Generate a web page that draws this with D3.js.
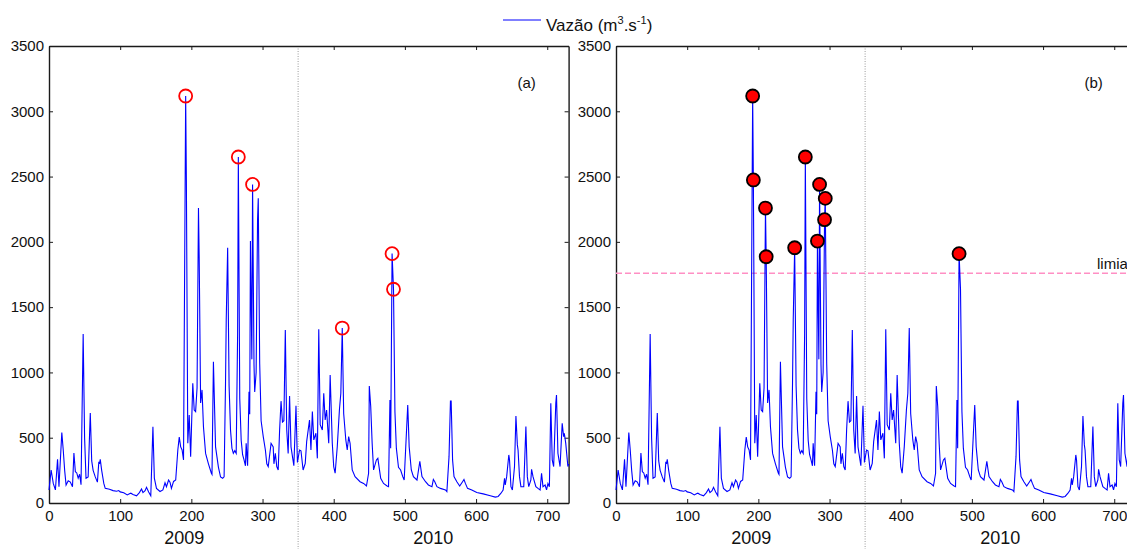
<!DOCTYPE html>
<html>
<head>
<meta charset="utf-8">
<script src="https://cdn.jsdelivr.net/npm/d3@7"></script>
<style>
  body { margin: 0; background: #fff; }
  text { font-family: "Liberation Sans", Arial, sans-serif; }
</style>
</head>
<body>
<div id="chart"></div>
<script>
// daily flow series (key points)
var days = [0, 3, 6, 9, 12, 14, 18, 20, 22, 24, 27, 30, 33, 35, 37, 39, 41, 43, 45, 48,
  50, 52, 55, 58, 60, 62, 65, 68, 70, 71, 72, 74, 77, 79, 85, 90, 95, 98, 100, 105,
  110, 113, 115, 118, 123, 127, 130, 132, 135, 137, 140, 143, 146, 148, 151, 156, 160, 163, 165, 168,
  170, 172, 175, 178, 181, 183, 185, 187, 189, 192, 193, 195, 197, 199, 202, 204, 206, 208, 210, 211,
  213, 215, 217, 220, 224, 228, 229, 231, 234, 238, 241, 244, 246, 248, 249, 251, 253, 255, 257, 259,
  261, 263, 265, 266, 268, 270, 272, 274, 276, 277, 279, 281, 282, 283, 285, 286, 288, 289, 291, 293,
  294, 296, 298, 301, 304, 306, 308, 312, 315, 316, 318, 320, 322, 324, 326, 328, 330, 332, 334, 336,
  338, 340, 344, 347, 349, 352, 354, 357, 360, 362, 366, 368, 370, 372, 375, 377, 379, 381, 384, 386,
  388, 390, 393, 395, 398, 400, 402, 405, 408, 410, 412, 414, 417, 419, 421, 423, 426, 430, 437, 442,
  446, 449, 450, 452, 454, 456, 460, 462, 466, 470, 475, 477, 479, 480, 482, 484, 486, 488, 491, 494,
  497, 499, 504, 506, 509, 512, 517, 521, 524, 529, 533, 538, 540, 542, 545, 550, 557, 559, 562, 564,
  565, 567, 569, 573, 577, 581, 583, 585, 588, 594, 601, 610, 620, 627, 631, 635, 638, 640, 641, 643,
  646, 647, 649, 651, 654, 656, 658, 659, 661, 663, 667, 670, 672, 674, 677, 678, 680, 684, 687, 690,
  692, 694, 697, 699, 701, 703, 705, 707, 709, 712, 713, 715, 718, 721, 723, 724, 726, 729, 730];

var flows = [100, 253, 150, 100, 335, 125, 539, 406, 250, 138, 170, 160, 125, 383, 240, 230, 190, 220, 140, 1294,
  500, 189, 200, 689, 322, 250, 200, 160, 315, 300, 335, 250, 150, 112, 105, 95, 90, 95, 85, 78,
  62, 70, 75, 65, 55, 80, 107, 80, 95, 120, 85, 55, 584, 190, 112, 88, 100, 155, 125, 176,
  160, 112, 165, 176, 406, 505, 430, 406, 330, 3117, 2474, 457, 674, 355, 917, 712, 700, 880, 2259, 1886,
  766, 866, 584, 380, 300, 230, 220, 1082, 430, 275, 200, 189, 200, 917, 1401, 1955, 900, 560, 420, 380,
  400, 380, 1300, 2650, 800, 480, 370, 330, 285, 457, 285, 852, 680, 2006, 1100, 2440, 1060, 850, 1000, 2170,
  2333, 1070, 630, 508, 406, 300, 279, 457, 430, 300, 380, 279, 253, 560, 780, 620, 630, 1325, 560, 380,
  820, 430, 285, 745, 310, 406, 400, 253, 304, 470, 636, 406, 700, 483, 534, 342, 1330, 600, 559, 840,
  636, 712, 457, 980, 457, 279, 228, 432, 712, 840, 1340, 686, 483, 406, 508, 457, 253, 202, 163, 150,
  130, 228, 896, 738, 457, 253, 330, 342, 189, 150, 130, 125, 789, 420, 1910, 1637, 700, 420, 273, 253,
  202, 176, 751, 432, 253, 202, 176, 320, 202, 163, 138, 125, 180, 163, 125, 112, 100, 87, 355, 780,
  780, 330, 202, 163, 130, 163, 180, 150, 112, 100, 80, 70, 55, 45, 50, 75, 100, 189, 138, 202,
  368, 330, 125, 100, 279, 666, 445, 406, 202, 125, 125, 585, 202, 125, 176, 258, 202, 125, 112, 100,
  228, 125, 138, 100, 150, 125, 763, 330, 279, 763, 827, 381, 279, 610, 508, 534, 457, 279, 300];

var peakDaysA = [192, 266, 286, 412, 482, 484];
var threshold = 1760;
var xTicks = [0, 100, 200, 300, 400, 500, 600, 700];
var yTicks = [0, 500, 1000, 1500, 2000, 2500, 3000, 3500];
var yearLabels = ["2009", "2010"];
var yearDays = [190, 540];
var yearSplit = 350;

var series = days.map(function (d, i) { return { day: d, flow: flows[i] }; });

var svgWidth = 1127;
var svgHeight = 549;

var svg = d3.select("#chart")
  .append("svg")
  .attr("width", svgWidth)
  .attr("height", svgHeight);

var plotTop = 46, plotBottom = 503;

var yScale = d3.scaleLinear().domain([0, 3500]).range([plotBottom, plotTop]);

function drawPanel(left, tag, filled) {
  var xScale = d3.scaleLinear().domain([0, 730]).range([left, left + 519.6]);
  var right = xScale(730);
  var g = svg.append("g");

  // year divider
  g.append("line")
    .attr("x1", xScale(yearSplit)).attr("x2", xScale(yearSplit))
    .attr("y1", plotTop).attr("y2", svgHeight)
    .attr("stroke", "#9a9a9a")
    .attr("stroke-width", 1)
    .attr("stroke-dasharray", "1,1.5");

  // axes (matlab style, ticks inside)
  var bottomAxis = d3.axisBottom(xScale).tickValues(xTicks).tickSizeInner(-4).tickSizeOuter(0).tickPadding(7);
  var leftAxis = d3.axisLeft(yScale).tickValues(yTicks).tickFormat(d3.format("d"))
    .tickSizeInner(-4).tickSizeOuter(0).tickPadding(5);
  var topAxis = d3.axisTop(xScale).tickValues(xTicks).tickSizeInner(-4).tickSizeOuter(0).tickFormat("");
  var rightAxis = d3.axisRight(yScale).tickValues(yTicks).tickSizeInner(-4).tickSizeOuter(0).tickFormat("");

  var ax = [
    g.append("g").attr("transform", "translate(0," + plotBottom + ")").call(bottomAxis),
    g.append("g").attr("transform", "translate(" + left + ",0)").call(leftAxis),
    g.append("g").attr("transform", "translate(0," + plotTop + ")").call(topAxis),
    g.append("g").attr("transform", "translate(" + right + ",0)").call(rightAxis)
  ];
  ax.forEach(function (a) {
    a.attr("font-size", 15).attr("font-family", "Liberation Sans, Arial, sans-serif");
    a.selectAll("text").attr("fill", "#111");
    a.select(".domain").attr("stroke", "#1a1a1a").attr("stroke-width", 1.4);
    a.selectAll(".tick line").attr("stroke", "#1a1a1a");
  });

  // threshold
  if (filled) {
    g.append("line")
      .attr("x1", left).attr("x2", right)
      .attr("y1", yScale(threshold)).attr("y2", yScale(threshold))
      .attr("stroke", "#ff8fc4")
      .attr("stroke-width", 1.6)
      .attr("stroke-dasharray", "6,3");
    g.append("text")
      .attr("x", 1097).attr("y", yScale(threshold) - 4)
      .attr("font-size", 15)
      .attr("fill", "#111")
      .text("limiar");
  }

  // series
  var line = d3.line()
    .x(function (d) { return xScale(d.day); })
    .y(function (d) { return yScale(d.flow); });

  g.append("path")
    .datum(series)
    .attr("fill", "none")
    .attr("stroke", "#0000ff")
    .attr("stroke-width", 1.1)
    .attr("d", line);

  // markers
  var marks;
  if (filled) {
    marks = series.filter(function (d) { return d.flow > threshold; });
  } else {
    marks = series.filter(function (d) { return peakDaysA.indexOf(d.day) >= 0; });
  }
  g.selectAll("circle.mk")
    .data(marks)
    .enter()
    .append("circle")
    .attr("class", "mk")
    .attr("cx", function (d) { return xScale(d.day); })
    .attr("cy", function (d) { return yScale(d.flow); })
    .attr("r", 6.5)
    .attr("fill", filled ? "#ff0000" : "none")
    .attr("stroke", filled ? "#000" : "#ff0000")
    .attr("stroke-width", 1.8);

  // panel tag
  g.append("text")
    .attr("x", right - 42).attr("y", 88)
    .attr("text-anchor", "middle")
    .attr("font-size", 15)
    .attr("fill", "#111")
    .text(tag);

  // year labels
  g.selectAll("text.yr")
    .data(yearLabels)
    .enter()
    .append("text")
    .attr("class", "yr")
    .attr("x", function (d, i) { return xScale(yearDays[i]); })
    .attr("y", 544)
    .attr("text-anchor", "middle")
    .attr("font-size", 18)
    .attr("fill", "#111")
    .text(function (d) { return d; });
}

drawPanel(49, "(a)", false);
drawPanel(616, "(b)", true);

// legend
svg.append("line")
  .attr("x1", 503).attr("x2", 541)
  .attr("y1", 20).attr("y2", 20)
  .attr("stroke", "#0000ff")
  .attr("stroke-width", 1);

var lg = svg.append("text")
  .attr("x", 546).attr("y", 31)
  .attr("font-size", 17)
  .attr("fill", "#111");
lg.append("tspan").text("Vazão (m");
lg.append("tspan").attr("dy", -7).attr("font-size", 11).text("3");
lg.append("tspan").attr("dy", 7).text(".s");
lg.append("tspan").attr("dy", -7).attr("font-size", 11).text("-1");
lg.append("tspan").attr("dy", 7).text(")");
</script>
</body>
</html>
